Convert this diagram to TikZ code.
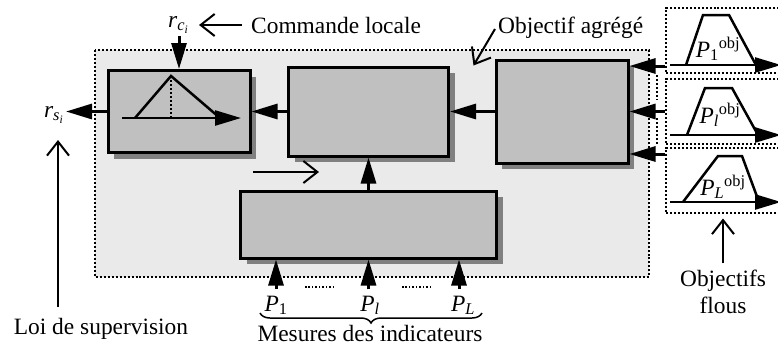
\documentclass[tikz,border=0pt]{standalone}
\usepackage{fontspec}
\setmainfont{Liberation Serif}
\usepackage{xcolor}
\usetikzlibrary{shadows,arrows.meta,decorations.pathreplacing}

\definecolor{fond}{RGB}{234,234,234}
\definecolor{grisbloc}{RGB}{192,192,192}
\definecolor{ombre}{RGB}{128,128,128}

\begin{document}
\begin{tikzpicture}[x=1bp,y=-1bp,
  font=\fontsize{23.5}{27}\selectfont, inner sep=2bp,
  bloc/.style={draw, line width=3bp, fill=grisbloc, inner sep=0pt,
    drop shadow={fill=ombre, opacity=1, shadow xshift=6bp, shadow yshift=-6bp}},
  fl/.style={line width=3bp, -{Triangle[length=26bp,width=15bp]}},
  fin/.style={line width=2bp, -{Straight Barb[length=14bp,width=22bp]}},
  objbox/.style={draw, dotted, line width=2bp, minimum width=124bp, minimum height=65bp, inner sep=0pt}]
  \useasboundingbox (0,0) rectangle (778,351);

  % Draw the system frame
  \draw[dotted, line width=2bp, fill=fond] (95,50) rectangle (649,277);

  % Draw the blocks
  \node[bloc, minimum width=142bp, minimum height=82bp] (decision) at (179,111.5) {};
  \node[bloc, minimum width=160bp, minimum height=89bp] (modele) at (368.5,111.5) {};
  \node[bloc, minimum width=132bp, minimum height=103bp] (agreg) at (562,111.5) {};
  \node[bloc, minimum width=256bp, minimum height=67bp] (mesures) at (368.5,224.5) {};

  % Triangle in the decision block
  \draw[fl, line width=2.5bp] (122,118) -- (241,118);
  \draw[line width=2.5bp] (135,118) -- (171,76) -- (220,118);
  \draw[dotted, line width=2bp] (171,76) -- (171,118);

  % Links between blocks
  \draw[fl] (agreg) -- (modele);
  \draw[fl] (modele) -- (decision);
  \draw[fl] (mesures) -- (modele);
  \coordinate (flecheA) at (253,172);
  \coordinate (flecheB) at (319,172);
  \draw[fin] (flecheA) -- (flecheB);

  % Command and output
  \node[anchor=base west] (rc) at (166,27) {\textit{r}\textsubscript{\textit{c}\textsubscript{\textit{i}}}};
  \node[anchor=base west] (cmd) at (249,33) {Commande locale};
  \draw[fl] (rc.south -| decision.north) -- (decision.north);
  \draw[fin, shorten <=7bp, shorten >=8bp] (cmd.west) -- (cmd.west -| rc.east);
  \node[anchor=base east] (rs) at (66,117) {\textit{r}\textsubscript{\textit{s}\textsubscript{\textit{i}}}};
  \draw[fl] (decision.west) -- (decision.west -| rs.east);
  \node[anchor=base] (loi) at (101,334) {Loi de supervision};
  \coordinate (supBas) at (58,307);
  \coordinate (supHaut) at (58,140);
  \draw[fin] (supBas) -- (supHaut);

  % Aggregated objective
  \node[anchor=base west] (objag) at (496,33) {Objectif agrégé};
  \draw[fin, shorten <=2bp] (objag.west) -- ([shift={(-21bp,-7bp)}]agreg.north west);

  % Indicators
  \node[anchor=base] (p1) at (276,311) {\textit{P}\textsubscript{1}};
  \node[anchor=base] (pl) at (370,311) {\textit{P}\textsubscript{\textit{l}}};
  \node[anchor=base] (pL) at (463,311) {\textit{P}\textsubscript{\textit{L}}};
  \draw[fl, shorten <=4bp] (p1.north) -- (p1.north |- mesures.south);
  \draw[fl, shorten <=4bp] (pl.north -| mesures) -- (mesures.south);
  \draw[fl, shorten <=4bp] (pL.north -| 459,0) -- (459,0 |- mesures.south);
  \draw[dotted, line width=1.5bp] (305,287) -- (335,287);
  \draw[dotted, line width=1.5bp] (402,287) -- (432,287);
  \draw[decorate, decoration={brace, mirror, amplitude=10bp}, line width=1.5bp] (260,313) -- (482,313);
  \node[anchor=base] (mes) at (370,341) {Mesures des indicateurs};

  % Fuzzy objectives
  \foreach \i/\yc/\yb/\a/\b/\c/\d/\yt/\lab/\xl/\yl in
    {1/40/65/686/703/729/756/15/1/718/57,
     2/111.5/135/687/705/732/758/88/{\textit{l}}/720/123,
     3/180/202/683/718/742/759/156/{\textit{L}}/723/195}{
    \node[objbox] (obj\i) at (728,\yc) {};
    \draw[fl, line width=2.5bp] (670,\yb) -- (781,\yb);
    \draw[line width=2.5bp] (\a,\yb) -- (\b,\yt) -- (\c,\yt) -- (\d,\yb);
    \node[anchor=base] at (\xl,\yl) {\textit{P}\textsubscript{\lab}\textsuperscript{obj}};
  }
  \draw[fl] ([yshift=-26bp]obj1.west) -- ([yshift=-26bp]obj1.west -| agreg.east);
  \draw[fl] (obj2.west) -- (obj2.west -| agreg.east);
  \draw[fl] ([yshift=26bp]obj3.west) -- ([yshift=26bp]obj3.west -| agreg.east);
  \draw[dotted, line width=2bp] (657,75) -- (657,100);
  \draw[dotted, line width=2bp] (657,118) -- (657,145);
  \node[anchor=base, align=center] (flous) at (723,313) {Objectifs\\flous};
  \draw[fin, shorten <=4bp, shorten >=5bp] (flous.north) -- (flous.north |- obj3.south);
\end{tikzpicture}
\end{document}
